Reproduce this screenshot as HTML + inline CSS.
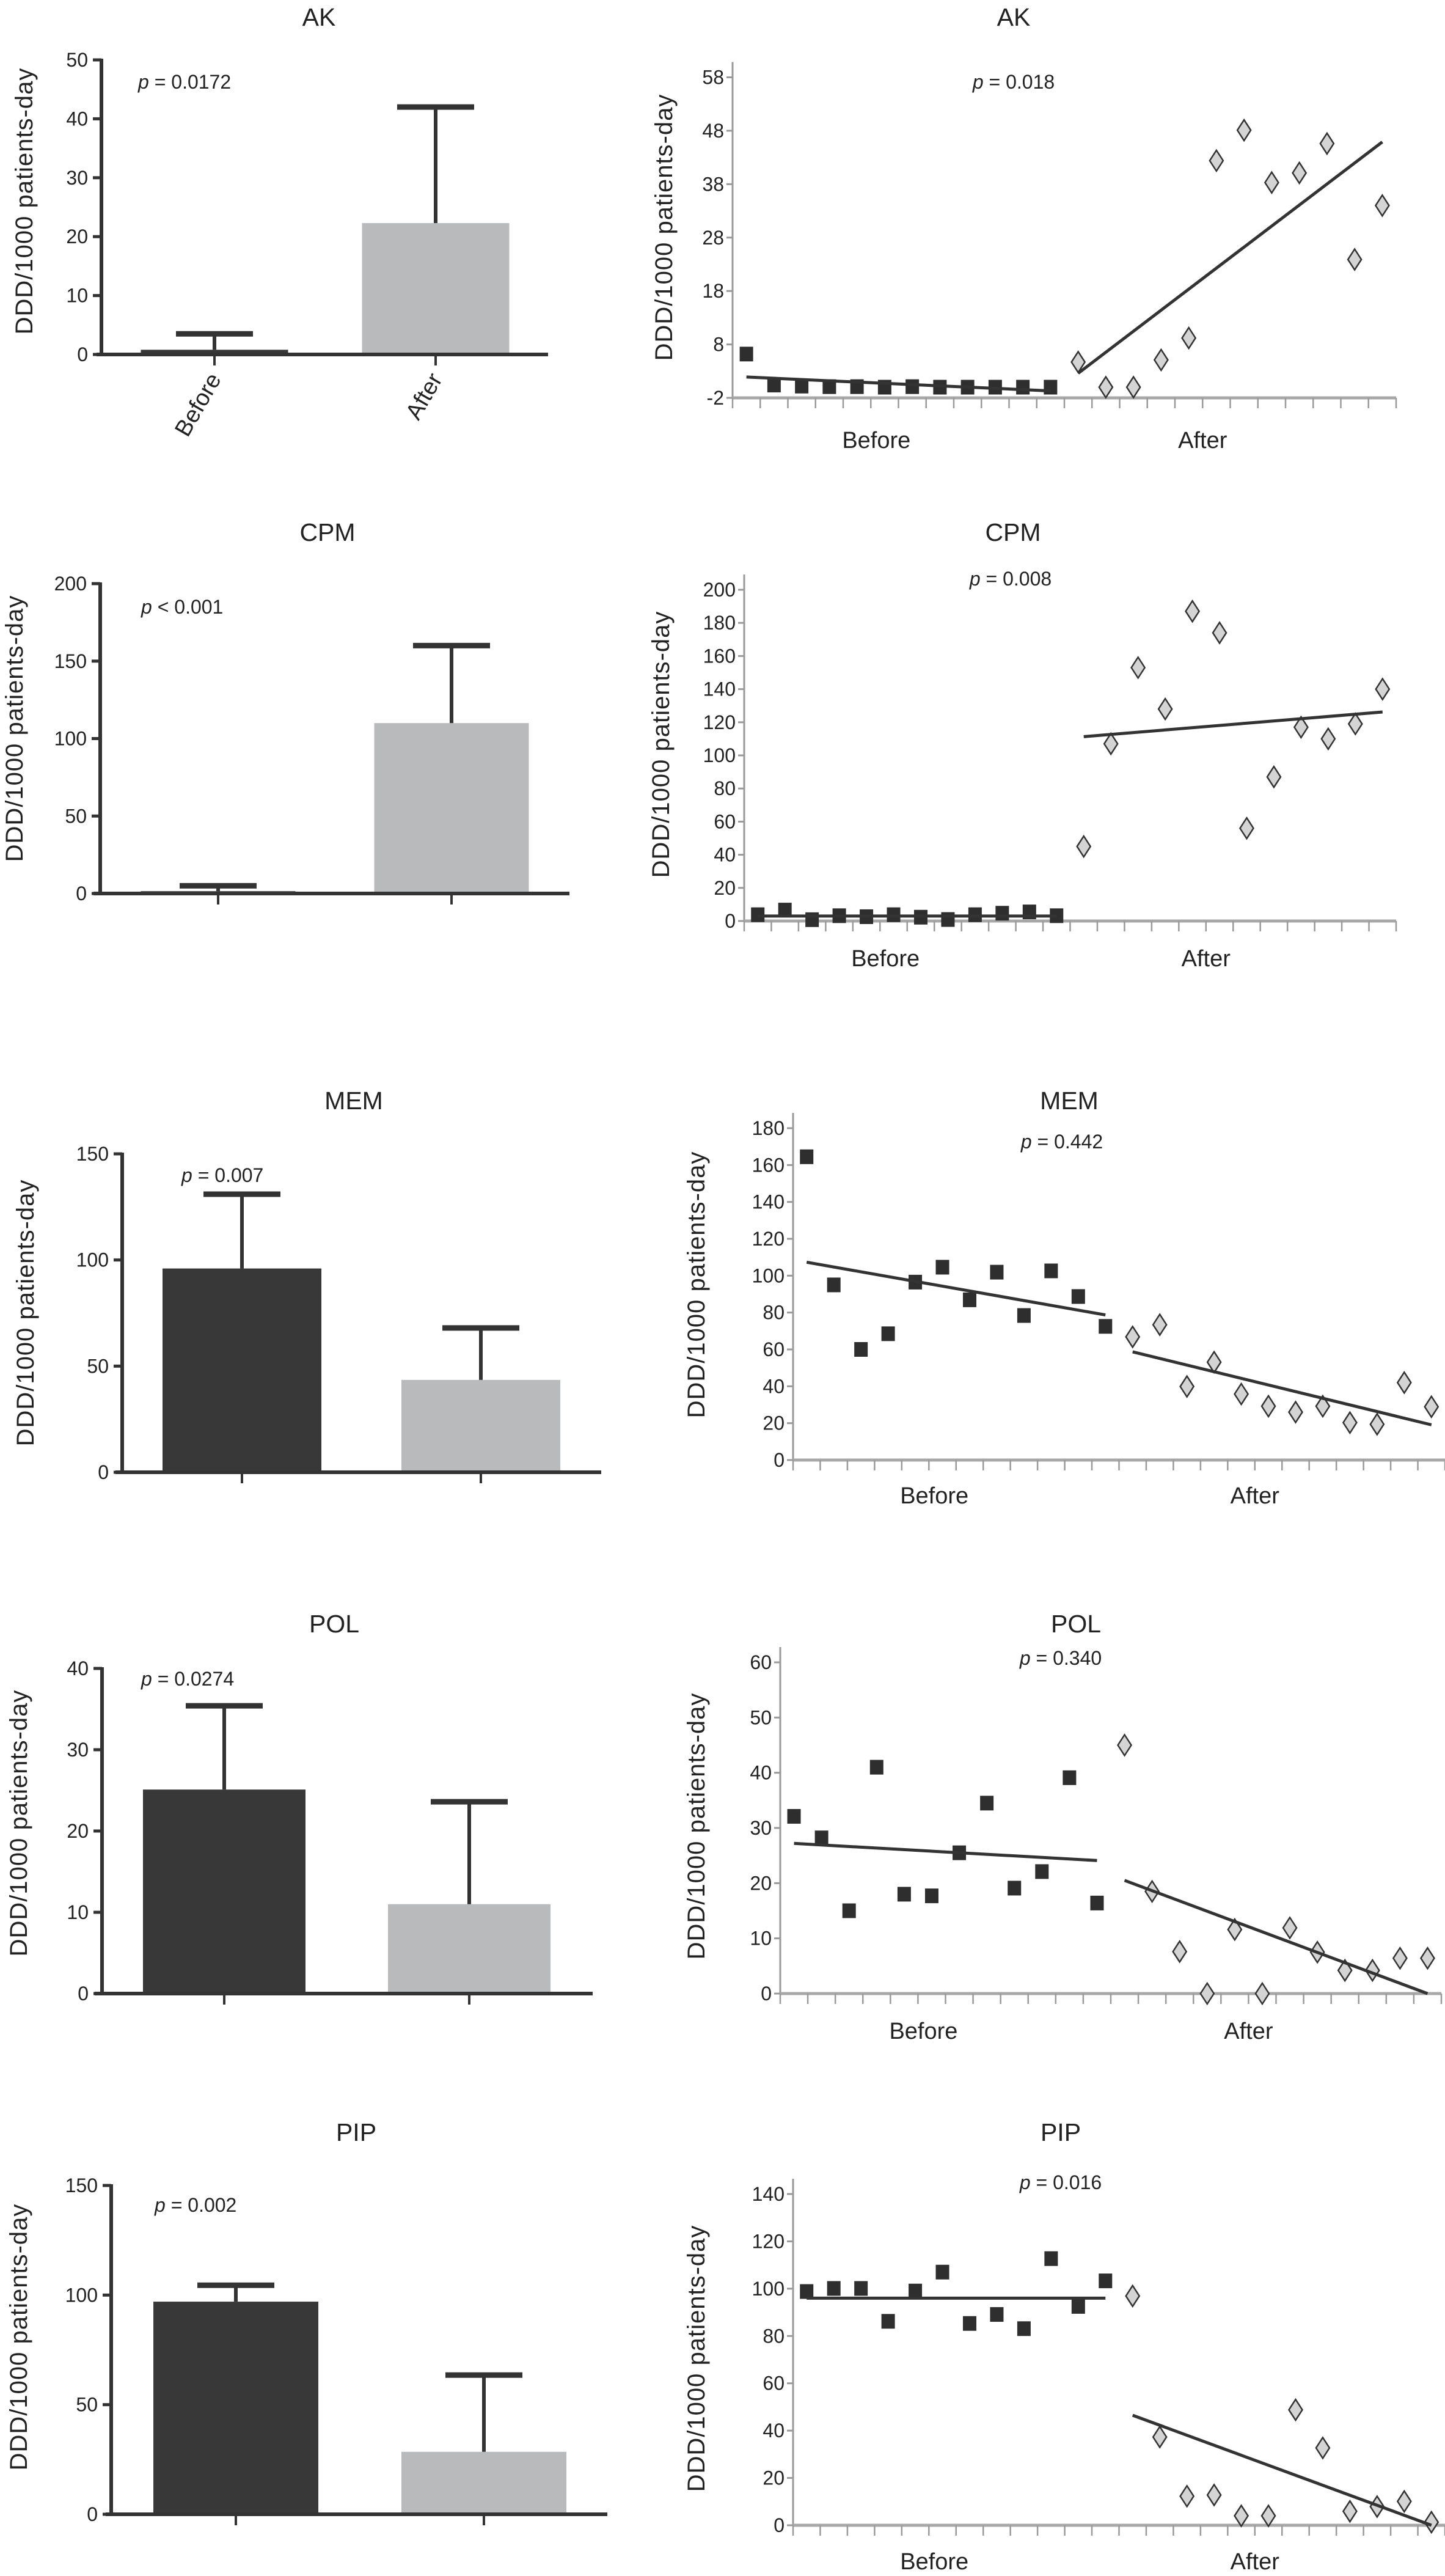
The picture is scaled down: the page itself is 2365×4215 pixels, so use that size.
<!DOCTYPE html>
<html><head><meta charset="utf-8">
<style>
html,body{margin:0;padding:0;background:#fff;}
svg{display:block;font-family:"Liberation Sans",Arial,sans-serif;}
</style></head>
<body>
<svg id="fig" width="2365" height="4215" viewBox="0 0 2365 4215" xmlns="http://www.w3.org/2000/svg"></svg>
<script>
// ---------- data: bar panels (mean, error) ----------
const barCategories = ["Before", "After"];
const akMeans = [0.8, 22.3];   const akErrs = [3.5, 42];
const cpmMeans = [1.5, 110];   const cpmErrs = [5, 160];
const memMeans = [96, 43.5];   const memErrs = [131, 68];
const polMeans = [25.1, 11];   const polErrs = [35.4, 23.6];
const pipMeans = [97, 28.5];   const pipErrs = [104.5, 63.5];
const akBarTicks = [0, 10, 20, 30, 40, 50];
const cpmBarTicks = [0, 50, 100, 150, 200];
const memBarTicks = [0, 50, 100, 150];
const polBarTicks = [0, 10, 20, 30, 40];
const pipBarTicks = [0, 50, 100, 150];

// ---------- data: scatter panels ----------
const akBefore = [6.2, 0.4, 0.2, 0.1, 0.1, 0.0, 0.1, 0.0, 0.0, 0.0, 0.0, 0.0];
const akAfter = [4.7, 0, 0, 5.1, 9.2, 42.4, 48.1, 38.3, 40.1, 45.6, 23.9, 34];
const akTrendBefore = [1.9, -0.7];
const akTrendAfter = [2.6, 45.9];
const akScatTicks = [-2, 8, 18, 28, 38, 48, 58];

const cpmBefore = [3.8, 6.6, 0.8, 3.2, 2.6, 3.8, 2.3, 0.9, 3.8, 4.7, 5.5, 3.2];
const cpmAfter = [45, 107, 153, 128, 187, 174, 56, 87, 117, 110, 119, 140];
const cpmTrendBefore = [3, 3];
const cpmTrendAfter = [111.3, 126.2];
const cpmScatTicks = [0, 20, 40, 60, 80, 100, 120, 140, 160, 180, 200];

const memBefore = [164.5, 95, 60, 68.5, 96.5, 104.6, 86.9, 101.9, 78.4, 102.6, 88.7, 72.5];
const memAfter = [66.8, 73.4, 39.9, 53.1, 35.8, 29.2, 26, 29.2, 20.3, 19.4, 42, 28.9];
const memTrendBefore = [107.3, 78.7];
const memTrendAfter = [58.7, 19.1];
const memScatTicks = [0, 20, 40, 60, 80, 100, 120, 140, 160, 180];

const polBefore = [32.1, 28.2, 15.0, 41.0, 18.0, 17.7, 25.5, 34.5, 19.1, 22.1, 39.1, 16.4];
const polAfter = [45.0, 18.5, 7.6, 0, 11.6, 0, 11.9, 7.5, 4.2, 4.2, 6.4, 6.4];
const polTrendBefore = [27.2, 24.1];
const polTrendAfter = [20.5, 0];
const polScatTicks = [0, 10, 20, 30, 40, 50, 60];

const pipBefore = [98.8, 100.1, 100.1, 86.2, 99, 107, 85.3, 89.1, 83.1, 112.7, 92.5, 103.3];
const pipAfter = [96.9, 37.3, 12.3, 12.8, 4, 4, 48.8, 32.7, 5.9, 7.9, 10.1, 1.3];
const pipTrendBefore = [96, 96];
const pipTrendAfter = [46.5, 0];
const pipScatTicks = [0, 20, 40, 60, 80, 100, 120, 140];

const NS = "http://www.w3.org/2000/svg";
const svg = document.getElementById("fig");
function mk(tag, attrs, parent) {
  const e = document.createElementNS(NS, tag);
  for (const k in attrs) e.setAttribute(k, attrs[k]);
  (parent || svg).appendChild(e);
  return e;
}
function txt(s, x, y, size, anchor, parent, extra) {
  const t = mk("text", Object.assign({x: x, y: y, "font-size": size, "text-anchor": anchor || "middle", fill: "#222"}, extra || {}), parent);
  t.textContent = s;
  return t;
}
function pText(x, y, rest, anchor, parent) {
  const t = mk("text", {x: x, y: y + 11, "font-size": 32, "text-anchor": anchor, fill: "#222"}, parent);
  const a = mk("tspan", {"font-style": "italic"}, t); a.textContent = "p";
  const b = mk("tspan", {}, t); b.textContent = rest;
  return t;
}
function yTitle(cx, y, parent) {
  const t = mk("text", {x: 0, y: 0, "font-size": 40, "text-anchor": "middle", fill: "#222",
    transform: "translate(" + (cx + 11) + "," + y + ") rotate(-90)", "letter-spacing": "1"}, parent);
  t.textContent = "DDD/1000 patients-day";
  
  
}

// ---------- bar panel ----------
function barPanel(cfg) {
  const g = mk("g", {});
  
  
  const ymax = cfg.ticks[cfg.ticks.length - 1], ymin = cfg.ticks[0];
  const Y = v => cfg.y0 - (v - ymin) / (ymax - ymin) * (cfg.y0 - cfg.yTop);
  const tt = txt(cfg.title, cfg.titleX, cfg.titleY + 14, 41, "middle", g);
  
  
  yTitle(cfg.ytX, cfg.ytY, g);
  cfg.means.forEach((m, i) => {
    const cx = cfg.centers[i];
    const col = i === 0 ? "#383838" : "#b9babc";
    const top = Y(m);
    const r = mk("rect", {x: cx - cfg.barW / 2, y: top, width: cfg.barW, height: Math.max(cfg.y0 - top, 0), fill: col}, g);
    
    
    const ey = Y(cfg.errs[i]);
    const el = mk("line", {x1: cx, x2: cx, y1: top, y2: ey, stroke: "#333", "stroke-width": 6}, g);
    
    
    mk("line", {x1: cx - 63, x2: cx + 63, y1: ey, y2: ey, stroke: "#333", "stroke-width": 9}, g);
    mk("line", {x1: cx, x2: cx, y1: cfg.y0, y2: cfg.y0 + 18, stroke: "#333", "stroke-width": 4}, g);
  });
  const ya = mk("line", {x1: cfg.axisX, x2: cfg.axisX, y1: cfg.yTop - 2, y2: cfg.y0, stroke: "#333", "stroke-width": 6}, g);
  
  
  const xa = mk("line", {x1: cfg.xStart, x2: cfg.xEnd, y1: cfg.y0, y2: cfg.y0, stroke: "#333", "stroke-width": 6}, g);
  
  
  cfg.ticks.forEach(v => {
    const y = Y(v);
    mk("line", {x1: cfg.axisX - 14, x2: cfg.axisX, y1: y, y2: y, stroke: "#333", "stroke-width": 5}, g);
    const l = txt(String(v), cfg.axisX - 22, y + 11, 32, "end", g);
    
    
  });
  const p = pText(cfg.pX, cfg.pY, cfg.pRest, "start", g);
  
  
  if (cfg.rotLabels) {
    cfg.centers.forEach((cx, i) => {
      const t = mk("text", {x: 0, y: 0, "font-size": 38, "text-anchor": "end", fill: "#222",
        transform: "translate(" + (cx + 12) + "," + (cfg.y0 + 40) + ") rotate(-60)"}, g);
      t.textContent = barCategories[i];
      
      
    });
  }
}

// ---------- scatter panel ----------
function scatterPanel(cfg) {
  const g = mk("g", {});
  
  
  const ymin = cfg.ticks[0], ymax = cfg.ticks[cfg.ticks.length - 1];
  const Y = v => cfg.y0 - (v - ymin) / (ymax - ymin) * (cfg.y0 - cfg.yTop);
  const n = 24, w = (cfg.xEnd - cfg.axisX) / n;
  const X = i => cfg.axisX + (i + 0.5) * w;
  const tt = txt(cfg.title, cfg.titleX, cfg.titleY + 14, 41, "middle", g);
  
  
  const p = pText(cfg.pX, cfg.pY, cfg.pRest, "middle", g);
  
  
  yTitle(cfg.ytX, cfg.ytY, g);
  const ya = mk("line", {x1: cfg.axisX, x2: cfg.axisX, y1: cfg.yTop - 25, y2: cfg.y0, stroke: "#9a9a9a", "stroke-width": 3}, g);
  
  
  cfg.ticks.forEach(v => {
    const y = Y(v);
    mk("line", {x1: cfg.axisX - 10, x2: cfg.axisX, y1: y, y2: y, stroke: "#9a9a9a", "stroke-width": 3}, g);
    const l = txt(String(v), cfg.axisX - 14, y + 11, 32, "end", g);
    
    
  });
  const xa = mk("line", {x1: cfg.axisX, x2: cfg.xEnd, y1: cfg.y0, y2: cfg.y0, stroke: "#a8a8a8", "stroke-width": 5}, g);
  
  
  for (let i = 0; i <= n; i++) {
    const x = cfg.axisX + i * w;
    mk("line", {x1: x, x2: x, y1: cfg.y0, y2: cfg.y0 + 17, stroke: "#9a9a9a", "stroke-width": 2.5}, g);
  }
  const lb = txt("Before", X(4.7), cfg.labY + 14, 38, "middle", g);
  
  
  const la = txt("After", X(16.5), cfg.labY + 14, 38, "middle", g);
  
  
  cfg.before.forEach((v, i) => {
    const r = mk("rect", {x: X(i) - 11, y: Y(v) - 12, width: 22, height: 24, fill: "#2e2e2e"}, g);
    
    
  });
  cfg.after.forEach((v, i) => {
    const cx = X(i + 12), cy = Y(v);
    const d = mk("polygon", {points: [cx, cy - 17, cx + 11, cy, cx, cy + 17, cx - 11, cy].join(" "),
      fill: "#d4d4d4", stroke: "#333", "stroke-width": 2.5}, g);
    
    
  });
  const t1 = mk("line", {x1: X(0), x2: X(11), y1: Y(cfg.tb[0]), y2: Y(cfg.tb[1]), stroke: "#333", "stroke-width": 5}, g);
  
  
  const t2 = mk("line", {x1: X(12), x2: X(23), y1: Y(cfg.ta[0]), y2: Y(cfg.ta[1]), stroke: "#333", "stroke-width": 5}, g);
  
  
}

// ---------- layout ----------
barPanel({name: "ak", title: "AK", titleX: 522, titleY: 28, ticks: akBarTicks, y0: 580, yTop: 98, axisX: 166,
  xStart: 158, xEnd: 897, centers: [351, 713], barW: 241, means: akMeans, errs: akErrs,
  pX: 226, pY: 134, pRest: " = 0.0172", ytX: 42, ytY: 329, rotLabels: true});
barPanel({name: "cpm", title: "CPM", titleX: 536, titleY: 871, ticks: cpmBarTicks, y0: 1462, yTop: 955, axisX: 164,
  xStart: 153, xEnd: 932, centers: [357, 739], barW: 253, means: cpmMeans, errs: cpmErrs,
  pX: 231, pY: 993, pRest: " < 0.001", ytX: 26, ytY: 1192});
barPanel({name: "mem", title: "MEM", titleX: 579, titleY: 1801, ticks: memBarTicks, y0: 2409, yTop: 1888, axisX: 200,
  xStart: 189, xEnd: 984, centers: [396, 787], barW: 260, means: memMeans, errs: memErrs,
  pX: 297, pY: 1923, pRest: " = 0.007", ytX: 44, ytY: 2148});
barPanel({name: "pol", title: "POL", titleX: 547, titleY: 2657, ticks: polBarTicks, y0: 3262, yTop: 2730, axisX: 167,
  xStart: 155, xEnd: 970, centers: [367, 768], barW: 266, means: polMeans, errs: polErrs,
  pX: 231, pY: 2747, pRest: " = 0.0274", ytX: 33, ytY: 2983});
barPanel({name: "pip", title: "PIP", titleX: 583, titleY: 3489, ticks: pipBarTicks, y0: 4114, yTop: 3576, axisX: 182,
  xStart: 173, xEnd: 994, centers: [386, 792], barW: 270, means: pipMeans, errs: pipErrs,
  pX: 253, pY: 3608, pRest: " = 0.002", ytX: 33, ytY: 3824});

scatterPanel({name: "ak", title: "AK", titleX: 1659, titleY: 28, pX: 1659, pY: 134, pRest: " = 0.018",
  ticks: akScatTicks, y0: 651, yTop: 126.5, axisX: 1199, xEnd: 2285, labY: 719,
  before: akBefore, after: akAfter, tb: akTrendBefore, ta: akTrendAfter, ytX: 1089, ytY: 372});
scatterPanel({name: "cpm", title: "CPM", titleX: 1658, titleY: 871, pX: 1654, pY: 947, pRest: " = 0.008",
  ticks: cpmScatTicks, y0: 1507, yTop: 965, axisX: 1218, xEnd: 2285, labY: 1567,
  before: cpmBefore, after: cpmAfter, tb: cpmTrendBefore, ta: cpmTrendAfter, ytX: 1084, ytY: 1218});
scatterPanel({name: "mem", title: "MEM", titleX: 1750, titleY: 1801, pX: 1738, pY: 1868, pRest: " = 0.442",
  ticks: memScatTicks, y0: 2389, yTop: 1846, axisX: 1298, xEnd: 2365, labY: 2446,
  before: memBefore, after: memAfter, tb: memTrendBefore, ta: memTrendAfter, ytX: 1142, ytY: 2102});
scatterPanel({name: "pol", title: "POL", titleX: 1761, titleY: 2657, pX: 1736, pY: 2713, pRest: " = 0.340",
  ticks: polScatTicks, y0: 3262, yTop: 2720, axisX: 1277, xEnd: 2359, labY: 3322,
  before: polBefore, after: polAfter, tb: polTrendBefore, ta: polTrendAfter, ytX: 1142, ytY: 2988});
scatterPanel({name: "pip", title: "PIP", titleX: 1736, titleY: 3489, pX: 1736, pY: 3571, pRest: " = 0.016",
  ticks: pipScatTicks, y0: 4132, yTop: 3590, axisX: 1298, xEnd: 2365, labY: 4190,
  before: pipBefore, after: pipAfter, tb: pipTrendBefore, ta: pipTrendAfter, ytX: 1142, ytY: 3859});
</script>
</body></html>
